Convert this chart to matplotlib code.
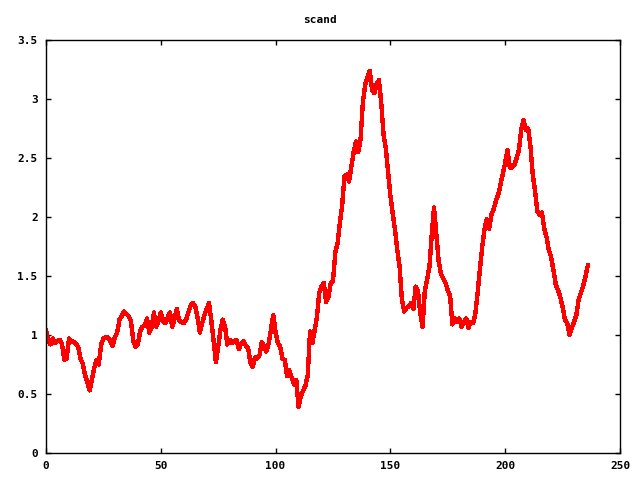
import matplotlib
matplotlib.use("Agg")
import matplotlib.pyplot as plt

# values, one per x step
scand_values = [
    1.04, 0.95, 0.92, 0.97, 0.93, 0.95, 0.96, 0.92, 0.79, 0.80,
    0.97, 0.95, 0.94, 0.93, 0.90, 0.80, 0.76, 0.66, 0.60, 0.53,
    0.62, 0.72, 0.79, 0.75, 0.92, 0.97, 0.98, 0.98, 0.95, 0.91,
    0.98, 1.02, 1.13, 1.16, 1.20, 1.18, 1.16, 1.12, 0.95, 0.90,
    0.92, 1.03, 1.07, 1.08, 1.14, 1.02, 1.06, 1.19, 1.07, 1.12,
    1.19, 1.12, 1.10, 1.15, 1.19, 1.07, 1.14, 1.22, 1.12, 1.11,
    1.10, 1.13, 1.19, 1.25, 1.27, 1.24, 1.15, 1.02, 1.10, 1.17,
    1.22, 1.27, 1.12, 0.95, 0.77, 0.90, 1.05, 1.13, 1.07, 0.92,
    0.96, 0.93, 0.95, 0.96, 0.88, 0.93, 0.95, 0.91, 0.89, 0.77,
    0.73, 0.81, 0.80, 0.83, 0.94, 0.90, 0.86, 0.93, 1.05, 1.17,
    1.02, 0.93, 0.90, 0.80, 0.79, 0.65, 0.70, 0.64, 0.58, 0.62,
    0.39, 0.48, 0.53, 0.57, 0.66, 1.03, 0.93, 1.04, 1.15, 1.36,
    1.41, 1.44, 1.28, 1.32, 1.44, 1.46, 1.70, 1.78, 1.95, 2.10,
    2.35, 2.36, 2.30, 2.43, 2.55, 2.64, 2.55, 2.66, 2.97, 3.12,
    3.18, 3.24, 3.08, 3.05, 3.13, 3.16, 2.97, 2.70, 2.58, 2.38,
    2.18, 2.03, 1.89, 1.72, 1.58, 1.30, 1.20, 1.23, 1.24, 1.27,
    1.22, 1.41, 1.37, 1.19, 1.07, 1.38, 1.47, 1.58, 1.85, 2.08,
    1.85, 1.63, 1.52, 1.48, 1.44, 1.38, 1.33, 1.09, 1.14, 1.11,
    1.14, 1.07, 1.11, 1.14, 1.06, 1.11, 1.10, 1.18, 1.36, 1.56,
    1.75, 1.90, 1.98, 1.90, 2.02, 2.07, 2.14, 2.19, 2.28, 2.37,
    2.46, 2.57, 2.42, 2.42, 2.44, 2.50, 2.57, 2.74, 2.82, 2.74,
    2.75, 2.60, 2.36, 2.22, 2.05, 2.02, 2.04, 1.90, 1.83, 1.72,
    1.66, 1.55, 1.43, 1.38, 1.32, 1.24, 1.13, 1.10, 1.00, 1.06,
    1.11, 1.17, 1.30, 1.36, 1.42, 1.50, 1.59,
]
x_values = list(range(len(scand_values)))

x_ticks = [0, 50, 100, 150, 200, 250]
y_ticks = [0, 0.5, 1, 1.5, 2, 2.5, 3, 3.5]
y_tick_labels = ["0", "0.5", "1", "1.5", "2", "2.5", "3", "3.5"]

plt.rcParams['font.family'] = ['DejaVu Sans Mono']
plt.rcParams['font.size'] = 8
plt.rcParams['font.weight'] = 'bold'

fig = plt.figure(figsize=(6.4, 4.8), dpi=100)
ax = fig.add_axes([46 / 640, 27 / 480, 574 / 640, 413 / 480])

# gnuplot-like: thick red line, no smoothing
ax.plot(x_values, scand_values, color='#ff0000', linewidth=2.4,
        antialiased=False)

ax.set_xlim(0, 250)
ax.set_ylim(0, 3.5)
ax.set_xticks(x_ticks)
ax.set_yticks(y_ticks)
ax.set_yticklabels(y_tick_labels)
ax.tick_params(direction='in', length=3.5, width=1, top=True, right=True,
               labelsize=8, pad=6)
for spine in ax.spines.values():
    spine.set_linewidth(1)

fig.text(0.5, 1 - 20 / 480, "scand", ha='center', va='center',
         fontsize=8, fontweight='bold')

fig.savefig("out.png", dpi=100)
plt.close(fig)
